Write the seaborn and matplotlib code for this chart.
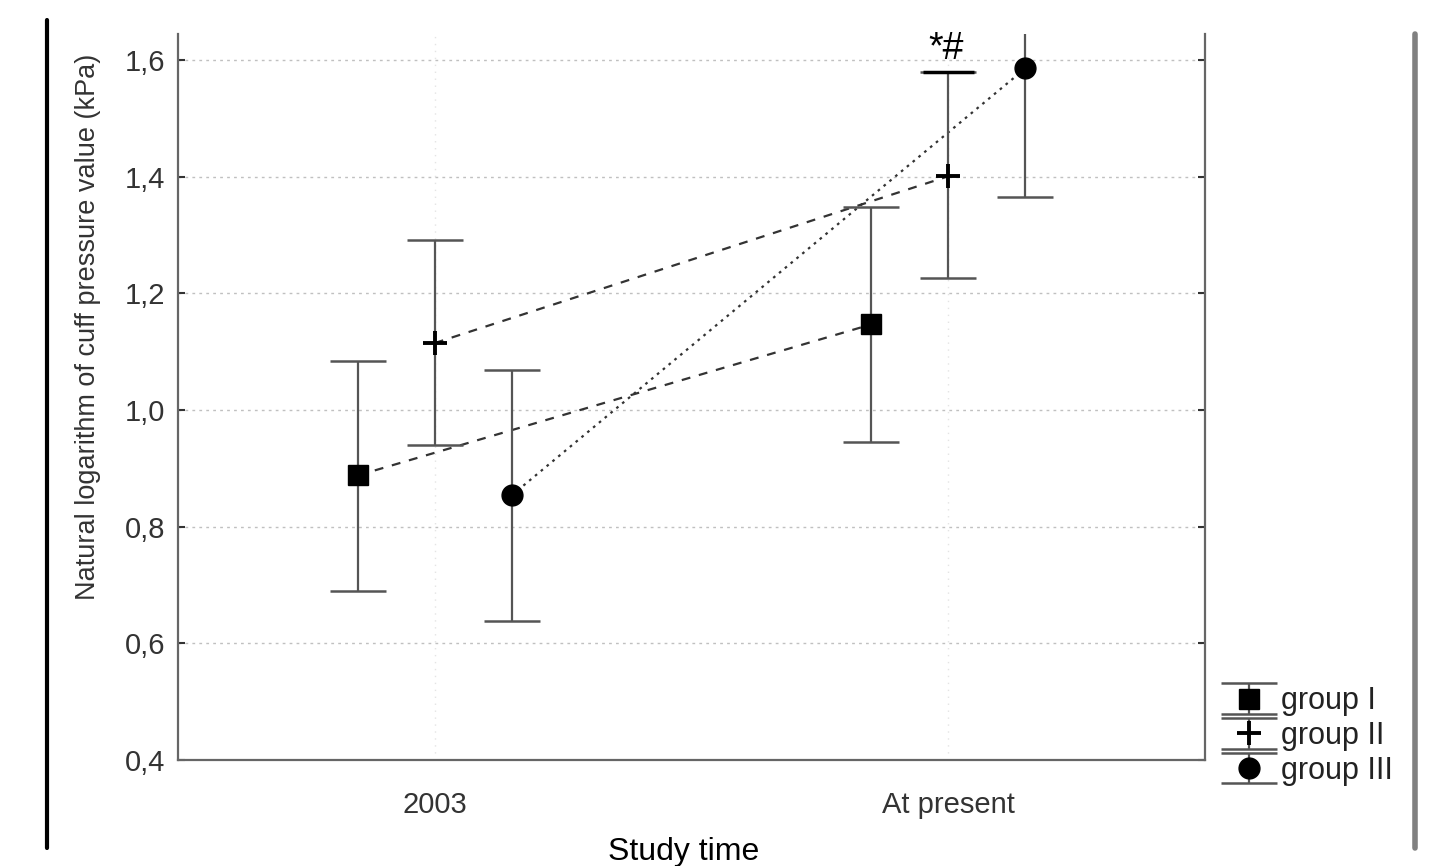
import numpy as np
import pandas as pd
import matplotlib
matplotlib.use('Agg')
import matplotlib.pyplot as plt
import seaborn as sns
from matplotlib.lines import Line2D
from matplotlib.ticker import FuncFormatter

# Data
times = ['2003', 'At present']
groups = ['group I', 'group II', 'group III']
offsets = [-0.15, 0.0, 0.15]
means_I = [0.888, 1.147]
means_II = [1.115, 1.401]
means_III = [0.854, 1.586]
upper_I = [1.084, 1.348]
upper_II = [1.291, 1.579]
upper_III = [1.068, 1.81]
lower_I = [0.689, 0.946]
lower_II = [0.941, 1.226]
lower_III = [0.639, 1.365]

means = [means_I, means_II, means_III]
uppers = [upper_I, upper_II, upper_III]
lowers = [lower_I, lower_II, lower_III]
markers = ['s', '+', 'o']
dash_styles = {'group I': (4, 4), 'group II': (4, 4), 'group III': (1.2, 2.2)}

rows = []
for g, off, m, up, lo in zip(groups, offsets, means, uppers, lowers):
    for i, t in enumerate(times):
        rows.append({'group': g, 'time': t, 'x': i + off, 'mean': m[i],
                     'upper': up[i], 'lower': lo[i]})
df = pd.DataFrame(rows)

sns.set_style('white')
plt.rcParams['font.family'] = ['Liberation Sans', 'DejaVu Sans']

fig = plt.figure(figsize=(14.47, 8.66), dpi=100)
ax = fig.add_axes([178 / 1447, 1 - 760 / 866, (1205 - 178) / 1447, (760 - 34) / 866])

# connecting lines between the two study times
sns.lineplot(data=df, x='x', y='mean', hue='group', style='group',
             palette=['#333333'] * 3, dashes=dash_styles, linewidth=1.6,
             legend=False, ax=ax, zorder=3)

# error bars with markers
handles = []
for g, mk in zip(groups, markers):
    d = df[df['group'] == g]
    yerr = [d['mean'] - d['lower'], d['upper'] - d['mean']]
    h = ax.errorbar(d['x'], d['mean'], yerr=yerr, fmt=mk, color='black',
                    ecolor='#555555', elinewidth=1.6, capsize=20, capthick=1.8,
                    markersize=15 if mk != '+' else 17, zorder=4, label=g)
    if mk == '+':
        h[0].set_markeredgewidth(2.8)
    handles.append(h)

# significance marker above group II at present
ax.plot([0.95, 1.05], [1.58, 1.58], color='black', lw=2.5, zorder=5,
        solid_capstyle='butt')
ax.text(0.995, 1.588, '*#', ha='center', va='bottom', fontsize=27, color='black')

ax.set_xlim(-0.5, 1.5)
ax.set_ylim(0.4, 1.645)
ax.set_xticks([0, 1])
ax.set_xticklabels(times)
ax.set_yticks([0.4, 0.6, 0.8, 1.0, 1.2, 1.4, 1.6])
ax.yaxis.set_major_formatter(FuncFormatter(lambda v, p: f'{v:.1f}'.replace('.', ',')))

ax.grid(axis='y', linestyle=(0, (2, 3)), color='#c0c0c0', linewidth=1)
ax.grid(axis='x', linestyle=(0, (1, 4)), color='#e4e4e4', linewidth=1)
ax.set_axisbelow(True)

for side in ['left', 'bottom', 'right']:
    ax.spines[side].set_visible(True)
    ax.spines[side].set_color('#666666')
    ax.spines[side].set_linewidth(1.6)
ax.spines['top'].set_visible(False)

ax.tick_params(axis='y', direction='in', length=5, width=1.5, color='#333333',
               right=True, left=True, labelsize=21, pad=9, labelcolor='#333333')
ax.tick_params(axis='x', direction='in', length=0, labelsize=21, pad=22,
               labelcolor='#333333')

ax.set_xlabel('')
ax.set_ylabel('Natural logarithm of cuff pressure value (kPa)', fontsize=19.5,
              color='#333333')
ax.yaxis.set_label_coords(-0.075, 0.596)
fig.text(684 / 1447, 1 - 852 / 866, 'Study time', ha='center',
         va='center', fontsize=23, color='black')

ax.legend(handles=handles, labels=groups, frameon=False, fontsize=22,
          loc='center left', bbox_to_anchor=(1211 / 1447, 1 - 736 / 866),
          bbox_transform=fig.transFigure, borderpad=0, handlelength=1.5,
          handletextpad=0.3, labelspacing=0.15, labelcolor='#222222')

# page border lines
fig.add_artist(Line2D([47 / 1447] * 2, [1 - 20 / 866, 1 - 848 / 866],
                      color='black', lw=3, transform=fig.transFigure))
fig.add_artist(Line2D([1415 / 1447] * 2, [1 - 34 / 866, 1 - 848 / 866],
                      color='#808080', lw=4, transform=fig.transFigure))

fig.savefig('out.png', dpi=100, facecolor='white')
